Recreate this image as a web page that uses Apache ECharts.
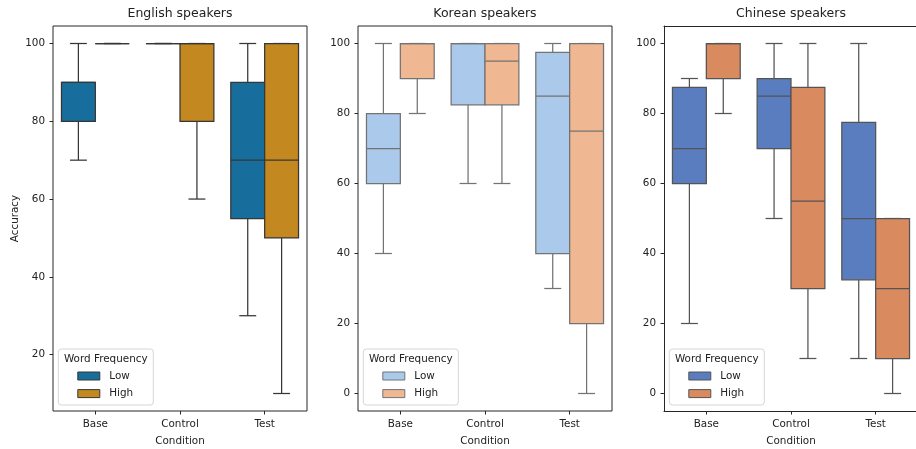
<!DOCTYPE html>
<html>
<head>
<meta charset="utf-8">
<script src="https://cdn.jsdelivr.net/npm/echarts@6/dist/echarts.min.js"></script>
<style>
  html, body { margin: 0; padding: 0; background: #fff; overflow: hidden; }
  #chart { width: 916px; height: 449px; }
</style>
</head>
<body>
<div id="chart"></div>
<script>
// Conditions on the x axis and the two word-frequency groups
const categories = ['Base', 'Control', 'Test'];
const hues = ['Low', 'High'];

// Y tick labels
const yTicksEnglish = [20, 40, 60, 80, 100];
const yTicksOther = [0, 20, 40, 60, 80, 100];

// Five-number summaries per condition: [lower whisker, Q1, median, Q3, upper whisker]
const englishLow  = [[70, 80, 90, 90, 100], [100, 100, 100, 100, 100], [30, 55, 70, 90, 100]];
const englishHigh = [[100, 100, 100, 100, 100], [60, 80, 100, 100, 100], [10, 50, 70, 100, 100]];
const koreanLow   = [[40, 60, 70, 80, 100], [60, 82.5, 100, 100, 100], [30, 40, 85, 97.5, 100]];
const koreanHigh  = [[80, 90, 100, 100, 100], [60, 82.5, 95, 100, 100], [0, 20, 75, 100, 100]];
const chineseLow  = [[20, 60, 70, 87.5, 90], [50, 70, 85, 90, 100], [10, 32.5, 50, 77.5, 100]];
const chineseHigh = [[80, 90, 100, 100, 100], [10, 30, 55, 87.5, 100], [0, 10, 30, 50, 50]];

const FONT = '"DejaVu Sans", sans-serif';
const TEXT = '#222';

const panels = [
  { title: 'English speakers', low: englishLow, high: englishHigh, ticks: yTicksEnglish,
    colors: ['#176d9c', '#c38820'], line: '#363636' },
  { title: 'Korean speakers', low: koreanLow, high: koreanHigh, ticks: yTicksOther,
    colors: ['#abc9ea', '#efb792'], line: '#737373' },
  { title: 'Chinese speakers', low: chineseLow, high: chineseHigh, ticks: yTicksOther,
    colors: ['#597dbf', '#d98b5f'], line: '#545454' }
];

const gridLefts = [53, 358, 664];
const gridTop = 26, gridW = 254, gridH = 385;

function boxRenderer(hueIdx, fill, lineColor) {
  return function (params, api) {
    const cat = api.value(0);
    const band = api.size([1, 0])[0];
    const w = band * 0.4;
    const cx = api.coord([cat, 0])[0] + (hueIdx - 0.5) * w;
    const py = v => api.coord([cat, v])[1];
    const lo = py(api.value(1)), q1 = py(api.value(2)), md = py(api.value(3)),
          q3 = py(api.value(4)), hi = py(api.value(5));
    const capHalf = w / 4;
    const ls = { stroke: lineColor, lineWidth: 1.25 };
    return {
      type: 'group',
      children: [
        { type: 'line', shape: { x1: cx, y1: q1, x2: cx, y2: lo }, style: ls },
        { type: 'line', shape: { x1: cx, y1: q3, x2: cx, y2: hi }, style: ls },
        { type: 'line', shape: { x1: cx - capHalf, y1: lo, x2: cx + capHalf, y2: lo }, style: ls },
        { type: 'line', shape: { x1: cx - capHalf, y1: hi, x2: cx + capHalf, y2: hi }, style: ls },
        { type: 'rect', shape: { x: cx - w / 2, y: q3, width: w, height: q1 - q3 },
          style: { fill: fill, stroke: lineColor, lineWidth: 1.25 } },
        { type: 'line', shape: { x1: cx - w / 2, y1: md, x2: cx + w / 2, y2: md }, style: ls }
      ]
    };
  };
}

const grids = [], xAxes = [], yAxes = [], series = [], graphics = [];

panels.forEach((p, i) => {
  const all = p.low.concat(p.high).flat();
  const dMin = Math.min(...all), dMax = Math.max(...all);
  const pad = (dMax - dMin) * 0.05;

  // Plot frame drawn without its right side on the last panel, which runs off the canvas
  grids.push({ left: gridLefts[i], top: gridTop, width: gridW, height: gridH,
    outerBoundsMode: 'none', containLabel: false,
    show: i !== 2, borderColor: '#262626', borderWidth: 1, backgroundColor: 'transparent' });

  xAxes.push({
    type: 'category', gridIndex: i, data: categories,
    name: 'Condition', nameLocation: 'middle', nameGap: 25,
    nameTextStyle: { fontFamily: FONT, fontSize: 10.4, color: TEXT },
    axisLine: { show: i === 2, onZero: false, lineStyle: { color: '#262626', width: 1 } },
    axisTick: { show: true, alignWithLabel: true, length: 3.5, lineStyle: { color: '#262626' } },
    axisLabel: { fontFamily: FONT, fontSize: 10.4, color: TEXT, margin: 8 },
    splitLine: { show: false }
  });

  yAxes.push({
    type: 'value', gridIndex: i, min: dMin - pad, max: dMax + pad,
    name: i === 0 ? 'Accuracy' : '', nameLocation: 'middle', nameGap: 33,
    nameTextStyle: { fontFamily: FONT, fontSize: 10.4, color: TEXT },
    axisLine: { show: i === 2, onZero: false, lineStyle: { color: '#262626', width: 1 } },
    axisTick: { show: true, length: 3.5, customValues: p.ticks, lineStyle: { color: '#262626' } },
    axisLabel: { fontFamily: FONT, fontSize: 10.4, color: TEXT, margin: 8, customValues: p.ticks },
    splitLine: { show: false }
  });

  [p.low, p.high].forEach((vals, h) => {
    series.push({
      type: 'custom', name: hues[h], xAxisIndex: i, yAxisIndex: i,
      renderItem: boxRenderer(h, p.colors[h], p.line),
      encode: { x: 0, y: [1, 2, 3, 4, 5] },
      data: vals.map((v, c) => [c].concat(v)),
      silent: true
    });
  });

  // Panel title
  graphics.push({ type: 'text', x: gridLefts[i] + gridW / 2, y: 14,
    style: { text: p.title, fontFamily: FONT, fontSize: 12.5, fill: TEXT,
             textAlign: 'center', textVerticalAlign: 'middle' } });

  // Legend box
  const lx = gridLefts[i] + 5.3, ly = 349;
  graphics.push({
    type: 'group', x: lx, y: ly,
    children: [
      { type: 'rect', shape: { x: 0, y: 0, width: 95, height: 56, r: 3 },
        style: { fill: 'rgba(255,255,255,0.8)', stroke: '#d6d6d6', lineWidth: 1 } },
      { type: 'text', x: 47.5, y: 10,
        style: { text: 'Word Frequency', fontFamily: FONT, fontSize: 10.4, fill: TEXT,
                 textAlign: 'center', textVerticalAlign: 'middle' } },
      ...hues.map((name, h) => ({
        type: 'group', children: [
          { type: 'rect', shape: { x: 19.5, y: 23 + h * 17.6, width: 22, height: 8 },
            style: { fill: p.colors[h], stroke: p.line, lineWidth: 1 } },
          { type: 'text', x: 51, y: 27 + h * 17.6,
            style: { text: name, fontFamily: FONT, fontSize: 10.4, fill: TEXT,
                     textAlign: 'left', textVerticalAlign: 'middle' } }
        ]
      }))
    ]
  });
});

// Top edge of the last panel's frame
xAxes.push({
  type: 'category', gridIndex: 2, data: categories, position: 'top',
  axisLine: { show: true, onZero: false, lineStyle: { color: '#262626', width: 1 } },
  axisTick: { show: false }, axisLabel: { show: false }, splitLine: { show: false }
});

const chart = echarts.init(document.getElementById('chart'), null, { renderer: 'canvas' });
chart.setOption({
  animation: false,
  backgroundColor: '#fff',
  grid: grids,
  xAxis: xAxes,
  yAxis: yAxes,
  series: series,
  graphic: graphics
});
</script>
</body>
</html>
